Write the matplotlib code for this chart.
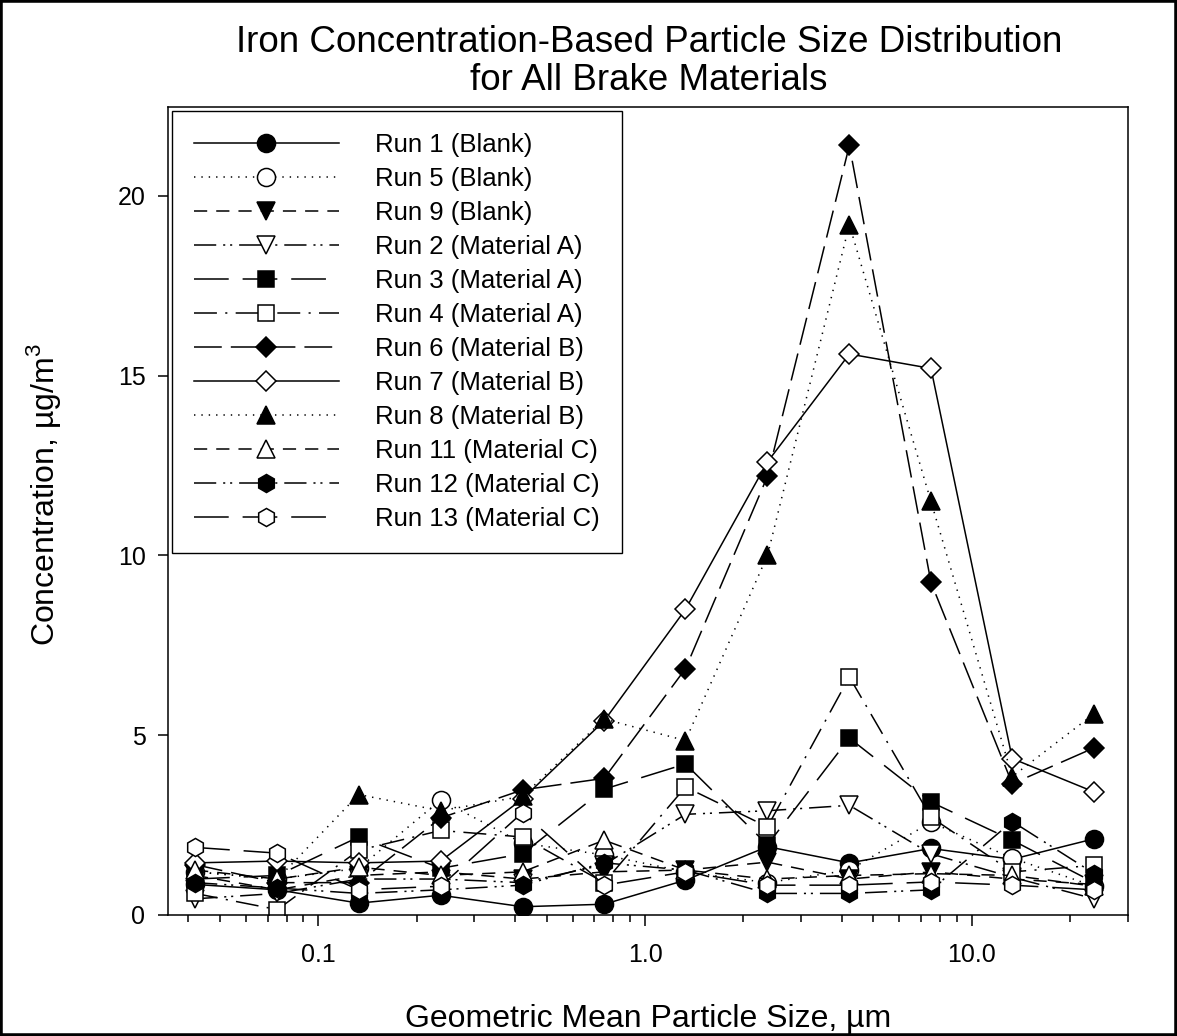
import matplotlib
matplotlib.use("Agg")
import matplotlib.pyplot as plt
from matplotlib.patches import Rectangle
from matplotlib.ticker import FixedLocator, LogLocator, NullFormatter

plt.rcParams['font.family'] = ['Liberation Sans', 'DejaVu Sans']
plt.rcParams['mathtext.fontset'] = 'custom'
plt.rcParams['mathtext.rm'] = 'Liberation Sans'
plt.rcParams['lines.scale_dashes'] = False

# geometric mean diameter of each impactor stage, um
size_um = [0.042, 0.075, 0.133, 0.237, 0.422, 0.75, 1.33, 2.37, 4.22, 7.5, 13.3, 23.7]

# iron concentration per stage, ug/m3
run1 = [0.85, 0.70, 0.33, 0.55, 0.23, 0.30, 0.97, 1.90, 1.45, 1.85, 1.55, 2.12]
run5 = [1.20, 1.00, 1.30, 3.20, 2.00, 1.67, 1.20, 0.90, 1.25, 2.58, 1.58, 0.80]
run9 = [1.10, 0.70, 1.10, 1.20, 1.00, 1.20, 1.25, 1.47, 1.00, 1.20, 1.00, 0.85]
run2 = [0.45, 0.60, 1.00, 1.00, 0.90, 1.40, 2.80, 2.90, 3.05, 1.70, 1.05, 0.45]
run3 = [1.00, 1.10, 2.17, 1.30, 1.70, 3.50, 4.20, 1.95, 4.92, 3.14, 2.08, 0.90]
run4 = [0.60, 0.15, 1.80, 2.35, 2.17, 0.90, 3.56, 2.45, 6.62, 2.72, 1.20, 1.38]
run6 = [1.40, 0.90, 0.90, 2.70, 3.48, 3.80, 6.85, 12.2, 21.4, 9.25, 3.65, 4.65]
run7 = [1.45, 1.50, 1.45, 1.50, 3.23, 5.40, 8.50, 12.6, 15.6, 15.2, 4.35, 3.42]
run8 = [1.20, 1.00, 3.35, 2.90, 3.30, 5.45, 4.85, 10.0, 19.2, 11.5, 3.85, 5.60]
run11 = [1.25, 1.00, 1.33, 1.10, 1.20, 2.08, 1.25, 1.00, 1.10, 1.15, 1.10, 0.80]
run12 = [0.90, 0.75, 0.60, 0.70, 0.83, 1.45, 1.25, 0.60, 0.60, 0.70, 2.60, 1.15]
run13 = [1.88, 1.72, 0.70, 0.80, 2.85, 0.83, 1.20, 0.83, 0.83, 0.92, 0.83, 0.70]

labels = ['Run 1 (Blank)', 'Run 5 (Blank)', 'Run 9 (Blank)',
          'Run 2 (Material A)', 'Run 3 (Material A)', 'Run 4 (Material A)',
          'Run 6 (Material B)', 'Run 7 (Material B)', 'Run 8 (Material B)',
          'Run 11 (Material C)', 'Run 12 (Material C)', 'Run 13 (Material C)']
series = [run1, run5, run9, run2, run3, run4, run6, run7, run8, run11, run12, run13]

# line patterns in points
solid = '-'
dot = (0, (1.0, 4.3))
dash = (0, (9.5, 6.5))
dash_dot_dot = (0, (16, 5, 1.5, 3.5, 1.5, 5))
long_dash = (0, (25, 10))
dash_dot = (0, (16.5, 6, 1.5, 6))
med_dash = (0, (20, 6.5))

# (linestyle, marker, filled, markersize)
styles = [
    (solid, 'o', True, 13),
    (dot, 'o', False, 13),
    (dash, 'v', True, 12.5),
    (dash_dot_dot, 'v', False, 12.5),
    (long_dash, 's', True, 11.5),
    (dash_dot, 's', False, 11.5),
    (med_dash, 'D', True, 10),
    (solid, 'D', False, 10),
    (dot, '^', True, 12.5),
    (dash, '^', False, 12.5),
    (dash_dot_dot, 'h', True, 13),
    (long_dash, 'h', False, 13),
]

W, H = 1177, 1036
fig = plt.figure(figsize=(W / 100, H / 100), dpi=100)
ax = fig.add_axes([168 / W, (H - 915) / H, 960 / W, 808 / H])

for vals, lab, (ls, mk, filled, ms) in zip(series, labels, styles):
    ax.plot(size_um, vals, linestyle=ls, color='black', lw=1.1,
            marker=mk, ms=ms, mec='black', mew=1.1,
            mfc='black' if filled else 'white', label=lab)

ax.set_xscale('log')
ax.set_xlim(0.0347, 30.06)
ax.set_ylim(0, 22.47)

ax.xaxis.set_major_locator(FixedLocator([0.1, 1, 10]))
ax.set_xticklabels(['0.1', '1.0', '10.0'])
ax.xaxis.set_minor_locator(LogLocator(base=10, subs=range(2, 10)))
ax.xaxis.set_minor_formatter(NullFormatter())
ax.set_yticks([0, 5, 10, 15, 20])

ax.tick_params(axis='both', which='both', direction='out', top=False,
               right=False, width=1.1, labelsize=18, colors='black')
ax.tick_params(axis='x', which='major', length=8, pad=12)
ax.tick_params(axis='x', which='minor', length=5)
ax.tick_params(axis='y', which='major', length=7.2, pad=9)
for sp in ax.spines.values():
    sp.set_linewidth(1.1)

ax.set_xlabel('Geometric Mean Particle Size, µm', fontsize=23, labelpad=27)
ax.set_ylabel('Concentration, µg/m$^\\mathregular{3}$', fontsize=23)
ax.yaxis.set_label_coords(-0.109, 0.52)

leg = ax.legend(loc='upper left', bbox_to_anchor=(0.0042, 0.995),
                borderaxespad=0, fontsize=18.5, handlelength=5.65,
                handletextpad=1.4, labelspacing=0.39, borderpad=0.85,
                numpoints=1, fancybox=False, framealpha=1)
leg.get_frame().set_edgecolor('black')
leg.get_frame().set_linewidth(1.0)

cx = 649 / W
fig.text(cx, 1 - 42 / H, 'Iron Concentration-Based Particle Size Distribution',
         ha='center', va='center', fontsize=26.5)
fig.text(cx, 1 - 81 / H, 'for All Brake Materials',
         ha='center', va='center', fontsize=26.5)

fig.patches.append(Rectangle((0, 0), 1, 1, transform=fig.transFigure,
                             fill=False, lw=4, ec='black'))

fig.savefig('out.png', dpi=100)
